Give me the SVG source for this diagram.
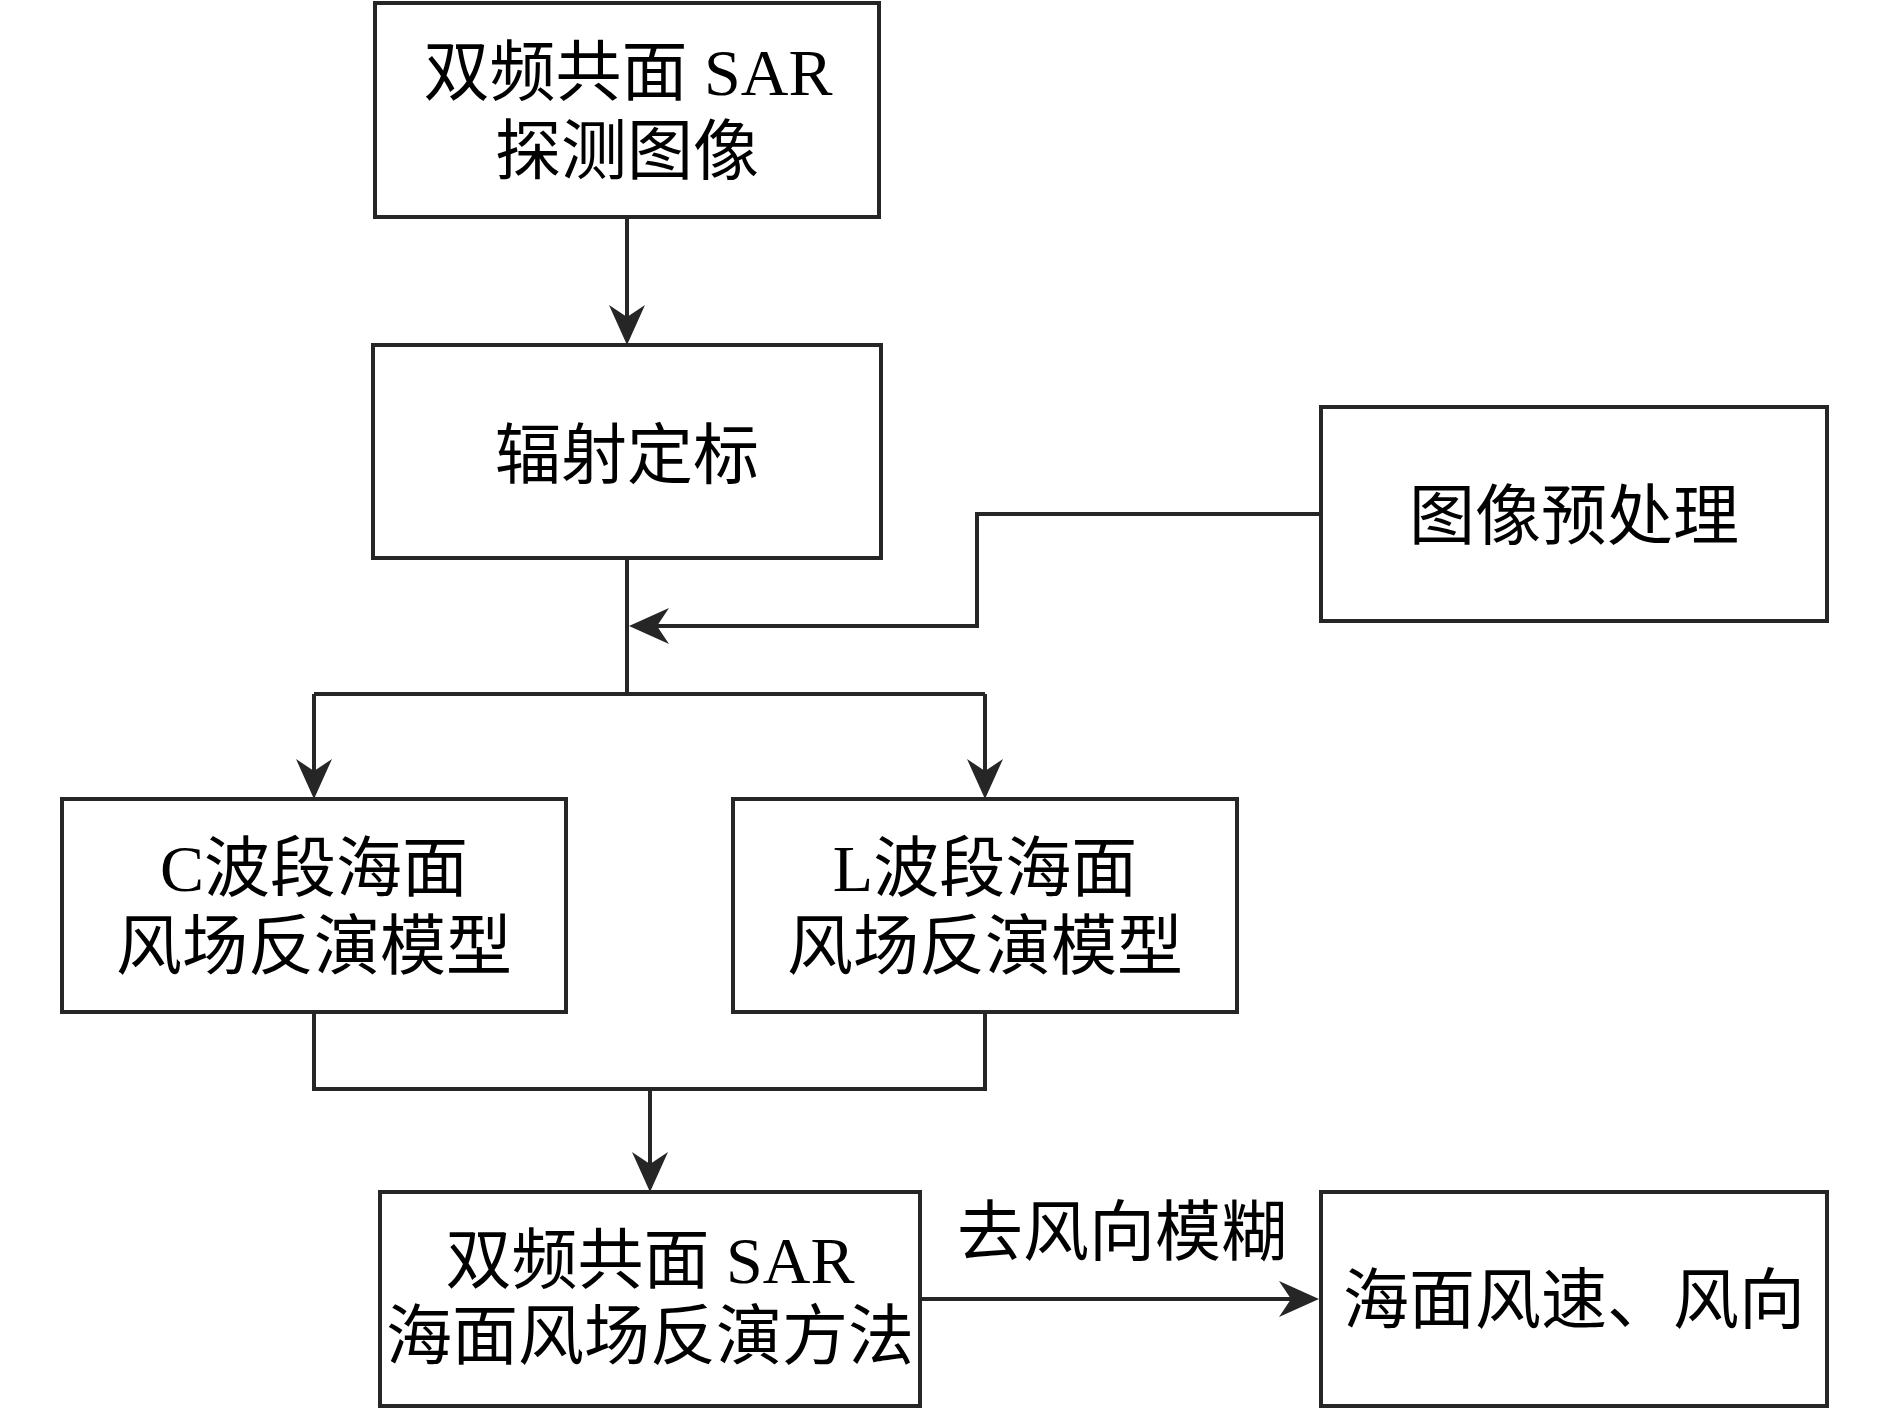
<svg xmlns="http://www.w3.org/2000/svg" width="1890" height="1413" viewBox="0 0 1890 1413">
<style>
.box{fill:#fff;stroke:#262626;stroke-width:4}
.con{fill:none;stroke:#262626;stroke-width:4}
text{font-family:"Liberation Serif","Noto Sans CJK SC",serif;font-size:66px;fill:#000;text-anchor:middle}
</style>
<defs>
<marker id="arr" markerUnits="userSpaceOnUse" markerWidth="44" markerHeight="40" viewBox="-22 -20 44 40" refX="0" refY="0" orient="auto">
<path d="M20,0 L-20,-18 L-8,0 L-20,18 Z" fill="#262626"/>
</marker>
</defs>
<rect width="1890" height="1413" fill="#fff"/>
<g id="connectors">
<path class="con" d="M627,217 V325" marker-end="url(#arr)"/>
<path class="con" d="M627,558 V694"/>
<path class="con" d="M314,694 H985"/>
<path class="con" d="M314,694 V779" marker-end="url(#arr)"/>
<path class="con" d="M985,694 V779" marker-end="url(#arr)"/>
<path class="con" d="M1319,514 H977 V626 H649" marker-end="url(#arr)"/>
<path class="con" d="M314,1012 V1089 H985 V1012"/>
<path class="con" d="M650,1089 V1172" marker-end="url(#arr)"/>
<path class="con" d="M920,1299 H1299" marker-end="url(#arr)"/>
<text x="1122" y="1255">去风向模糊</text>
</g>
<g id="n1">
<rect class="box" x="375" y="3" width="504" height="214"/>
<text x="628" y="95">双频共面 SAR</text>
<text x="627" y="174">探测图像</text>
</g>
<g id="n2">
<rect class="box" x="373" y="345" width="508" height="213"/>
<text x="627" y="478">辐射定标</text>
</g>
<g id="n3">
<rect class="box" x="1321" y="407" width="506" height="214"/>
<text x="1574" y="539">图像预处理</text>
</g>
<g id="n4">
<rect class="box" x="62" y="799" width="504" height="213"/>
<text x="314" y="891">C波段海面</text>
<text x="314" y="969">风场反演模型</text>
</g>
<g id="n5">
<rect class="box" x="733" y="799" width="504" height="213"/>
<text x="985" y="891">L波段海面</text>
<text x="985" y="969">风场反演模型</text>
</g>
<g id="n6">
<rect class="box" x="380" y="1192" width="540" height="214"/>
<text x="650" y="1283">双频共面 SAR</text>
<text x="650" y="1359">海面风场反演方法</text>
</g>
<g id="n7">
<rect class="box" x="1321" y="1192" width="506" height="214"/>
<text x="1574" y="1323">海面风速、风向</text>
</g>
</svg>
